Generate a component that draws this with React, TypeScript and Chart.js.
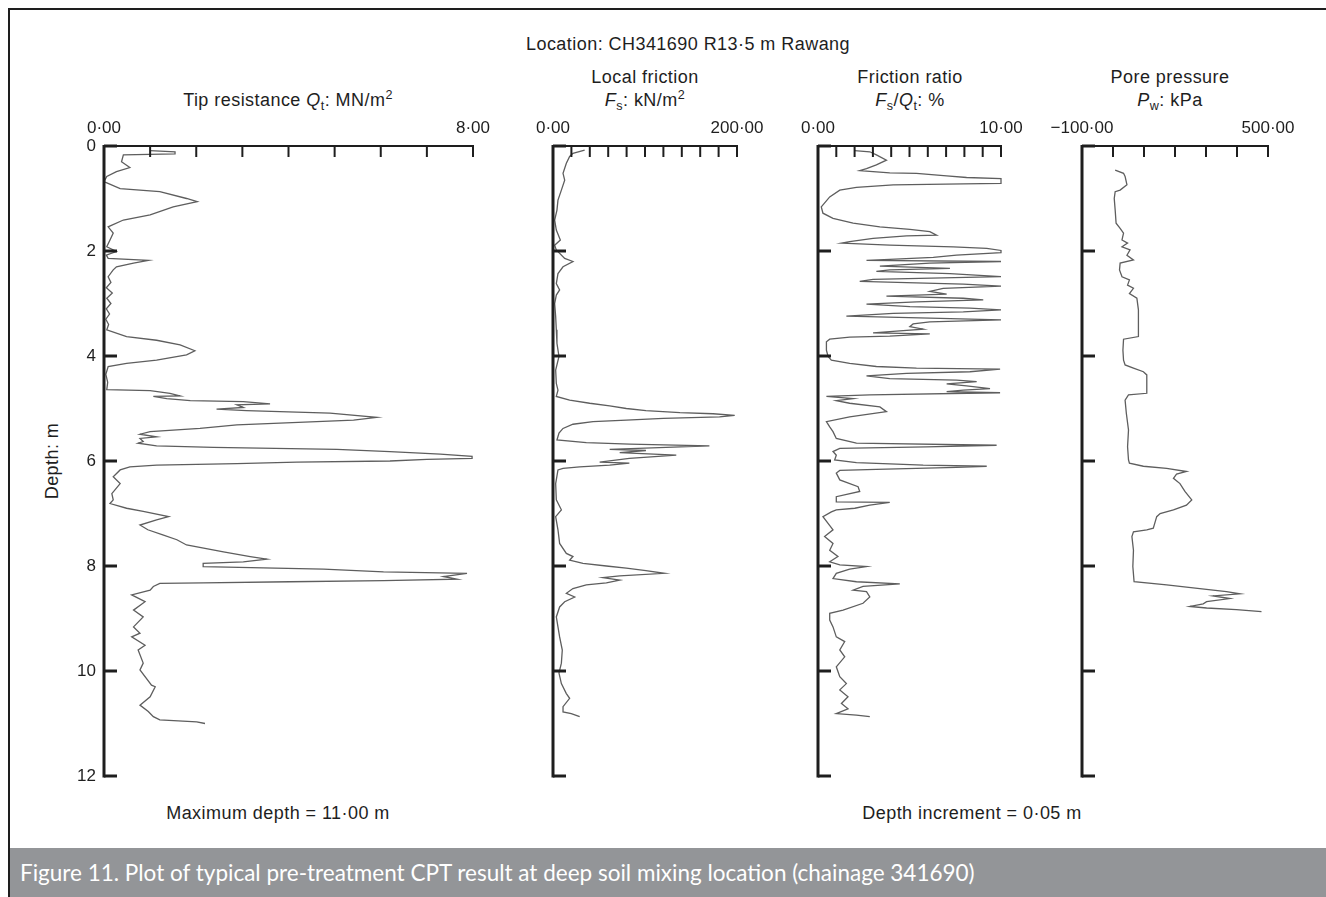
import React, { useEffect, useRef } from 'react';
import { Chart, registerables } from 'chart.js';

Chart.register(...registerables);

// ---------- DATA (depth m, value) ----------
const DEPTH_TICKS = [0, 2, 4, 6, 8, 10, 12];

const TIP_RESISTANCE: [number, number][] = [
  [0.09, 1.0], [0.11, 1.54], [0.15, 1.54], [0.17, 0.42], [0.3, 0.38], [0.41, 0.56], [0.49, 0.27], [0.58, 0.06],
  [0.68, 0.0], [0.81, 0.35], [0.87, 1.21], [1.0, 1.79], [1.06, 2.02], [1.16, 1.5], [1.31, 1.0], [1.41, 0.42],
  [1.54, 0.09], [1.66, 0.2], [1.79, 0.13], [1.92, 0.06], [2.01, 0.27], [2.08, 0.05], [2.14, 0.09], [2.18, 0.96],
  [2.23, 0.64], [2.3, 0.27], [2.36, 0.2], [2.49, 0.09], [2.6, 0.15], [2.7, 0.05], [2.8, 0.18], [2.9, 0.06],
  [3.0, 0.15], [3.1, 0.05], [3.2, 0.12], [3.3, 0.04], [3.4, 0.1], [3.5, 0.06], [3.63, 0.49], [3.7, 1.14],
  [3.79, 1.65], [3.9, 1.97], [3.98, 1.79], [4.08, 1.14], [4.14, 0.49], [4.2, 0.09], [4.35, 0.04], [4.5, 0.08],
  [4.64, 0.06], [4.66, 1.0], [4.71, 1.43], [4.76, 1.65], [4.77, 1.07], [4.81, 1.36], [4.85, 1.87], [4.87, 3.02],
  [4.91, 3.6], [4.93, 2.88], [4.98, 3.02], [5.01, 2.44], [5.04, 3.09], [5.09, 4.9], [5.17, 5.91], [5.22, 5.41],
  [5.31, 2.88], [5.38, 2.08], [5.44, 1.0], [5.49, 0.78], [5.54, 1.14], [5.57, 0.78], [5.63, 0.85], [5.66, 0.74],
  [5.71, 1.14], [5.74, 2.37], [5.78, 5.05], [5.82, 6.2], [5.87, 7.29], [5.91, 7.98], [5.95, 7.98], [5.97, 7.0],
  [6.0, 6.2], [6.02, 4.18], [6.05, 2.88], [6.08, 1.14], [6.11, 0.56], [6.17, 0.35], [6.3, 0.2], [6.43, 0.35],
  [6.62, 0.17], [6.74, 0.2], [6.81, 0.13], [6.9, 0.49], [6.96, 0.85], [7.06, 1.4], [7.12, 1.14], [7.22, 0.78],
  [7.31, 0.95], [7.41, 1.29], [7.5, 1.58], [7.6, 1.79], [7.73, 2.59], [7.82, 3.17], [7.87, 3.53], [7.92, 3.02],
  [7.95, 2.15], [8.01, 2.15], [8.06, 4.76], [8.11, 6.06], [8.14, 7.87], [8.2, 7.36], [8.25, 7.65], [8.28, 6.06],
  [8.3, 4.03], [8.32, 2.15], [8.33, 1.21], [8.39, 1.07], [8.46, 1.0], [8.55, 0.6], [8.68, 0.89], [8.84, 0.64],
  [8.97, 0.85], [9.16, 0.64], [9.28, 0.78], [9.35, 0.6], [9.51, 0.89], [9.6, 0.74], [9.85, 0.85], [9.98, 0.78],
  [10.27, 1.03], [10.3, 1.11], [10.49, 1.0], [10.65, 0.78], [10.77, 0.96], [10.87, 1.07], [10.93, 1.21],
  [10.97, 2.01], [11.0, 2.19],
];

const LOCAL_FRICTION: [number, number][] = [
  [0.08, 34.4], [0.14, 21.7], [0.2, 18.1], [0.33, 14.5], [0.52, 10.9], [0.65, 12.7], [0.84, 9.1], [1.03, 5.4],
  [1.22, 4.3], [1.41, 1.8], [1.6, 3.6], [1.79, 8.0], [1.89, 1.8], [1.98, 3.6], [2.14, 12.7], [2.2, 21.7],
  [2.3, 10.9], [2.43, 5.4], [2.62, 3.6], [2.74, 7.2], [2.84, 3.6], [3.0, 1.8], [3.25, 2.9], [3.5, 3.6],
  [3.76, 4.3], [4.01, 6.5], [4.27, 2.9], [4.52, 3.6], [4.65, 5.4], [4.77, 3.6], [4.84, 18.1], [4.9, 39.9],
  [4.95, 61.6], [5.0, 79.7], [5.04, 101], [5.08, 138], [5.1, 174], [5.13, 197.5], [5.16, 181], [5.19, 120],
  [5.22, 79.7], [5.25, 43.5], [5.3, 21.7], [5.38, 10.9], [5.47, 6.5], [5.6, 4.3], [5.65, 36.2], [5.68, 83.3],
  [5.71, 170], [5.74, 123], [5.78, 61.6], [5.8, 101], [5.84, 72.5], [5.89, 134], [5.95, 83], [6.02, 50.7],
  [6.04, 83], [6.08, 61.6], [6.11, 29], [6.14, 10.9], [6.17, 5.4], [6.43, 2.9], [6.74, 3.6], [6.93, 9.1],
  [7.06, 2.9], [7.31, 5.4], [7.57, 7.2], [7.76, 14.5], [7.82, 21.7], [7.89, 18.1], [7.95, 32.6], [8.0, 58],
  [8.04, 79.7], [8.09, 101], [8.14, 121], [8.19, 72.5], [8.22, 54.3], [8.27, 72.5], [8.32, 58], [8.36, 36.2],
  [8.43, 21.7], [8.52, 14.5], [8.59, 23.6], [8.68, 12.7], [8.78, 7.2], [8.97, 3.6], [9.16, 5.4], [9.35, 7.2],
  [9.6, 10.1], [9.85, 9.1], [10.04, 6.5], [10.24, 9.1], [10.43, 14.5], [10.52, 18.1], [10.68, 10.9],
  [10.78, 10.9], [10.81, 19.9], [10.87, 29],
];

const FRICTION_RATIO: [number, number][] = [
  [0.09, 2.0], [0.11, 2.83], [0.17, 3.19], [0.27, 3.74], [0.36, 3.19], [0.43, 2.65], [0.47, 2.28], [0.51, 3.92],
  [0.52, 5.38], [0.57, 7.03], [0.6, 8.12], [0.62, 10], [0.71, 10], [0.72, 7.94], [0.74, 4.11], [0.79, 2.1],
  [0.84, 1.19], [0.97, 0.64], [1.16, 0.18], [1.28, 0.27], [1.38, 0.82], [1.47, 1.92], [1.54, 3.38], [1.59, 5.02],
  [1.63, 6.11], [1.7, 6.48], [1.71, 4.84], [1.76, 3.01], [1.82, 1.73], [1.85, 1.28], [1.89, 3.92], [1.92, 7.39],
  [1.95, 9.22], [1.99, 10], [2.03, 10], [2.08, 7.57], [2.12, 6.3], [2.16, 3.92], [2.18, 2.65], [2.2, 10],
  [2.23, 6.11], [2.29, 3.38], [2.33, 7.21], [2.36, 3.92], [2.39, 3.19], [2.43, 7.21], [2.49, 10], [2.54, 3.01],
  [2.58, 2.28], [2.63, 7.94], [2.67, 10], [2.71, 6.84], [2.77, 6.11], [2.82, 7.03], [2.86, 3.74], [2.9, 7.94],
  [2.93, 9.03], [2.97, 5.38], [3.01, 2.65], [3.06, 5.02], [3.09, 8.3], [3.12, 10], [3.16, 7.94], [3.19, 4.11],
  [3.24, 1.55], [3.28, 6.11], [3.31, 10], [3.35, 6.11], [3.39, 5.2], [3.44, 5.02], [3.49, 5.75], [3.52, 4.47],
  [3.56, 3.01], [3.58, 6.11], [3.62, 3.92], [3.64, 1.73], [3.68, 0.64], [3.73, 0.46], [3.89, 0.46], [4.01, 0.55],
  [4.08, 0.73], [4.14, 1.73], [4.2, 3.19], [4.23, 5.38], [4.25, 9.95], [4.3, 8.3], [4.33, 4.84], [4.38, 2.65],
  [4.43, 3.92], [4.46, 7.57], [4.49, 8.67], [4.53, 7.03], [4.57, 8.12], [4.62, 9.4], [4.65, 7.94], [4.68, 7.03],
  [4.7, 9.95], [4.74, 2.83], [4.77, 0.46], [4.81, 1.92], [4.85, 1.0], [4.9, 1.73], [4.97, 3.38], [5.06, 3.74],
  [5.16, 1.73], [5.25, 0.46], [5.35, 0.64], [5.44, 0.82], [5.57, 1.0], [5.66, 2.1], [5.7, 9.76], [5.73, 5.93],
  [5.76, 1.19], [5.82, 0.82], [5.89, 1.0], [5.98, 0.91], [6.03, 2.1], [6.08, 5.75], [6.1, 9.22], [6.12, 7.57],
  [6.16, 3.19], [6.18, 1.19], [6.23, 1.0], [6.36, 1.19], [6.49, 2.19], [6.58, 2.28], [6.68, 1.0], [6.78, 1.0],
  [6.79, 3.92], [6.84, 2.83], [6.9, 2.01], [6.93, 1.0], [6.97, 0.73], [7.06, 0.27], [7.19, 0.55], [7.31, 0.82],
  [7.44, 0.36], [7.57, 0.82], [7.7, 0.64], [7.82, 1.09], [7.92, 0.64], [7.98, 1.19], [8.01, 2.65], [8.06, 1.73],
  [8.14, 1.0], [8.24, 0.82], [8.3, 2.1], [8.34, 4.47], [8.39, 2.46], [8.46, 1.92], [8.49, 2.65], [8.59, 2.83],
  [8.71, 2.46], [8.84, 1.37], [8.9, 0.64], [9.03, 0.64], [9.16, 0.82], [9.35, 1.0], [9.44, 1.46], [9.6, 1.19],
  [9.73, 1.46], [9.92, 1.0], [10.11, 1.19], [10.24, 1.55], [10.36, 1.19], [10.49, 1.64], [10.62, 1.28],
  [10.72, 1.64], [10.81, 1.0], [10.84, 2.1], [10.87, 2.83],
];

const PORE_PRESSURE: [number, number][] = [
  [0.46, 7], [0.52, 34], [0.58, 39], [0.74, 45], [0.84, 23], [0.87, 7], [1.0, 4], [1.22, 7], [1.47, 10],
  [1.57, 23], [1.66, 34], [1.79, 29], [1.85, 47], [1.92, 29], [1.98, 55], [2.08, 45], [2.17, 66], [2.23, 23],
  [2.36, 21], [2.49, 29], [2.55, 53], [2.65, 47], [2.71, 66], [2.81, 53], [2.9, 77], [3.12, 82], [3.38, 82],
  [3.63, 82], [3.68, 34], [3.89, 32], [4.08, 34], [4.17, 39], [4.23, 66], [4.3, 98], [4.36, 109], [4.71, 109],
  [4.74, 50], [4.84, 39], [5.09, 43], [5.41, 50], [5.73, 47], [5.98, 50], [6.04, 53], [6.1, 98], [6.14, 173],
  [6.2, 237], [6.25, 205], [6.33, 195], [6.43, 216], [6.58, 232], [6.74, 254], [6.84, 237], [6.93, 195],
  [7.0, 152], [7.06, 141], [7.16, 136], [7.28, 130], [7.31, 109], [7.35, 66], [7.44, 61], [7.7, 66], [8.01, 64],
  [8.3, 68], [8.36, 173], [8.43, 280], [8.49, 366], [8.53, 409], [8.57, 323], [8.62, 377], [8.68, 302],
  [8.72, 291], [8.77, 248], [8.8, 302], [8.83, 398], [8.87, 479],
];

// ---------- PANEL CONFIG ----------
type Panel = {
  id: string;
  data: [number, number][];
  min: number;
  max: number;
  step: number;
  left: number;
  right: number;
  labels: [number, string][];
  depthLabels: boolean;
  padL: number;
};

const PANELS: Panel[] = [
  { id: 'qt', data: TIP_RESISTANCE, min: 0, max: 8, step: 1, left: 104, right: 473,
    labels: [[0, '0·00'], [8, '8·00']], depthLabels: true, padL: 70 },
  { id: 'fs', data: LOCAL_FRICTION, min: 0, max: 200, step: 20, left: 553, right: 737,
    labels: [[0, '0·00'], [200, '200·00']], depthLabels: false, padL: 40 },
  { id: 'fr', data: FRICTION_RATIO, min: 0, max: 10, step: 1, left: 818, right: 1001,
    labels: [[0, '0·00'], [10, '10·00']], depthLabels: false, padL: 40 },
  { id: 'pw', data: PORE_PRESSURE, min: -100, max: 500, step: 100, left: 1082, right: 1268,
    labels: [[-100, '−100·00'], [500, '500·00']], depthLabels: false, padL: 50 },
];

const TOP = 146;
const BOTTOM = 776;
const PAD_T = 34;
const PAD_B = 12;
const PAD_R = 36;
const FONT = '"Liberation Sans", Arial, Helvetica, sans-serif';
const INK = '#1e1e1e';

const axesPlugin = {
  id: 'cptAxes',
  afterDatasetsDraw(chart: any, _args: any, opts: any) {
    const { ctx } = chart;
    const xs = chart.scales.x;
    const ys = chart.scales.y;
    const top = ys.getPixelForValue(0);
    const bottom = ys.getPixelForValue(12);
    const left = xs.getPixelForValue(opts.min);
    const right = xs.getPixelForValue(opts.max);
    ctx.save();
    ctx.strokeStyle = INK;
    ctx.lineCap = 'butt';
    // top axis
    ctx.lineWidth = 2;
    ctx.beginPath();
    ctx.moveTo(left, top);
    ctx.lineTo(right + 1, top);
    ctx.stroke();
    for (let v = opts.min; v <= opts.max + 1e-9; v += opts.step) {
      const px = xs.getPixelForValue(v);
      ctx.beginPath();
      ctx.moveTo(px, top);
      ctx.lineTo(px, top + 11);
      ctx.stroke();
    }
    // left (depth) axis
    ctx.lineWidth = 3;
    ctx.beginPath();
    ctx.moveTo(left, top - 1);
    ctx.lineTo(left, bottom + 1.5);
    ctx.stroke();
    for (const d of DEPTH_TICKS) {
      const py = ys.getPixelForValue(d);
      ctx.beginPath();
      ctx.moveTo(left, py);
      ctx.lineTo(left + 13, py);
      ctx.stroke();
    }
    // labels
    ctx.fillStyle = INK;
    ctx.font = `17px ${FONT}`;
    ctx.textAlign = 'center';
    ctx.textBaseline = 'middle';
    for (const [v, t] of opts.labels) {
      ctx.fillText(t, xs.getPixelForValue(v), top - 18);
    }
    if (opts.depthLabels) {
      ctx.textAlign = 'right';
      for (const d of DEPTH_TICKS) ctx.fillText(String(d), left - 8, ys.getPixelForValue(d));
    }
    ctx.restore();
  },
};

function PanelChart({ panel }: { panel: Panel }) {
  const ref = useRef<HTMLCanvasElement | null>(null);
  const width = panel.right - panel.left + panel.padL + PAD_R;
  const height = BOTTOM - TOP + PAD_T + PAD_B;
  useEffect(() => {
    if (!ref.current) return;
    const chart = new Chart(ref.current, {
      type: 'line',
      data: {
        datasets: [
          {
            data: panel.data.map(([d, v]) => ({ x: v, y: d })),
            borderColor: '#5e5e5e',
            borderWidth: 1.3,
            pointRadius: 0,
            tension: 0,
            fill: false,
            clip: false as any,
          },
        ],
      },
      options: {
        indexAxis: 'y',
        responsive: false,
        animation: false,
        devicePixelRatio: 1,
        events: [],
        layout: { padding: { left: panel.padL, right: PAD_R, top: PAD_T, bottom: PAD_B } },
        scales: {
          x: { type: 'linear', min: panel.min, max: panel.max, display: false },
          y: { type: 'linear', min: 0, max: 12, reverse: true, display: false },
        },
        plugins: {
          legend: { display: false },
          tooltip: { enabled: false },
          cptAxes: {
            min: panel.min,
            max: panel.max,
            step: panel.step,
            labels: panel.labels,
            depthLabels: panel.depthLabels,
          },
        } as any,
      },
      plugins: [axesPlugin],
    });
    return () => chart.destroy();
  }, [panel]);
  return (
    <canvas
      ref={ref}
      width={width}
      height={height}
      style={{ position: 'absolute', left: panel.left - panel.padL, top: TOP - PAD_T, width, height }}
    />
  );
}

function T({ x, y, children, rotate }: { x: number; y: number; children: any; rotate?: boolean }) {
  return (
    <div
      style={{
        position: 'absolute',
        left: x,
        top: y,
        transform: `translate(-50%, -50%)${rotate ? ' rotate(-90deg)' : ''}`,
        whiteSpace: 'nowrap',
        font: `18px ${FONT}`,
        letterSpacing: '0.45px',
        color: INK,
        lineHeight: '20px',
      }}
    >
      {children}
    </div>
  );
}

const Sub = ({ c }: { c: string }) => (
  <span style={{ fontSize: '0.7em', position: 'relative', top: '0.3em' }}>{c}</span>
);
const Sup = ({ c }: { c: string }) => (
  <span style={{ fontSize: '0.7em', position: 'relative', top: '-0.55em' }}>{c}</span>
);

export default function App() {
  return (
    <div style={{ position: 'absolute', left: 0, top: 0, width: 1326, height: 897, background: '#fff', overflow: 'hidden' }}>
      <div style={{ position: 'absolute', left: 8, top: 8, width: 1318, height: 889, borderTop: `2px solid ${INK}`, borderLeft: `2px solid ${INK}`, boxSizing: 'border-box' }} />
      <T x={688} y={44}>Location: CH341690 R13·5 m Rawang</T>
      <T x={645} y={77}>Local friction</T>
      <T x={910} y={77}>Friction ratio</T>
      <T x={1170} y={77}>Pore pressure</T>
      <T x={288} y={101}>
        Tip resistance <i>Q</i><Sub c="t" />: MN/m<Sup c="2" />
      </T>
      <T x={645} y={101}>
        <i>F</i><Sub c="s" />: kN/m<Sup c="2" />
      </T>
      <T x={910} y={101}>
        <i>F</i><Sub c="s" />/<i>Q</i><Sub c="t" />: %
      </T>
      <T x={1170} y={101}>
        <i>P</i><Sub c="w" />: kPa
      </T>
      <T x={52} y={461} rotate>Depth: m</T>
      {PANELS.map((p) => (
        <PanelChart key={p.id} panel={p} />
      ))}
      <T x={278} y={813}>Maximum depth = 11·00 m</T>
      <T x={972} y={813}>Depth increment = 0·05 m</T>
      <div style={{ position: 'absolute', left: 10, top: 848, width: 1316, height: 49, background: '#939598' }} />
      <div
        style={{
          position: 'absolute',
          left: 20,
          top: 872,
          transform: 'translateY(-50%)',
          font: '22.5px Lato, "Open Sans", sans-serif',
          color: '#ffffff',
          whiteSpace: 'nowrap',
        }}
      >
        Figure 11. Plot of typical pre-treatment CPT result at deep soil mixing location (chainage 341690)
      </div>
    </div>
  );
}
